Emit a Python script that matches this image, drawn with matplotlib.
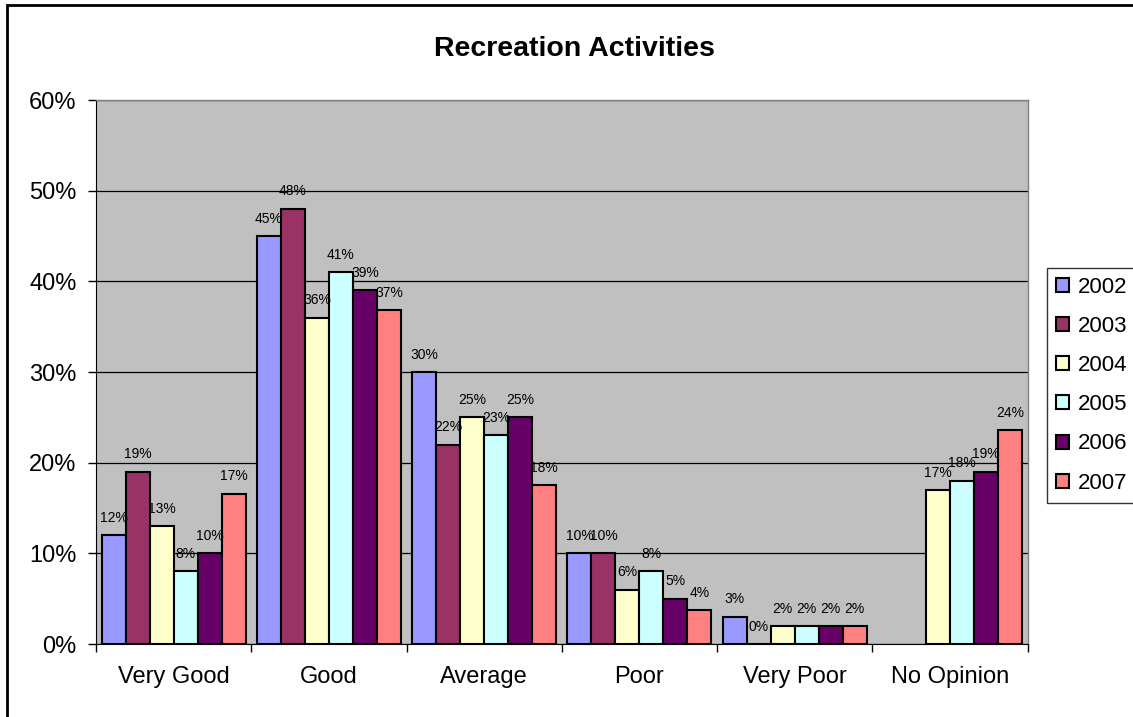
import numpy as np
import matplotlib
matplotlib.use("Agg")
import matplotlib.pyplot as plt
from matplotlib.patches import Rectangle

plt.rcParams['font.family'] = ['Liberation Sans', 'DejaVu Sans']

categories = ["Very Good", "Good", "Average", "Poor", "Very Poor", "No Opinion"]
years = ["2002", "2003", "2004", "2005", "2006", "2007"]
v2002 = [12, 45, 30, 10, 3, np.nan]
v2003 = [19, 48, 22, 10, 0, np.nan]
v2004 = [13, 36, 25, 6, 2, 17]
v2005 = [8, 41, 23, 8, 2, 18]
v2006 = [10, 39, 25, 5, 2, 19]
v2007 = [16.6, 36.8, 17.5, 3.7, 2, 23.6]
series = [v2002, v2003, v2004, v2005, v2006, v2007]
colors = ["#9999FF", "#993366", "#FFFFCC", "#CCFFFF", "#660066", "#FF8080"]

fig = plt.figure(figsize=(11.33, 7.17), dpi=100)
ax = fig.add_axes([0.0847, 0.1018, 0.8223, 0.7587])
ax.set_facecolor("#C0C0C0")

n = len(years)
bw = 0.1545
x = np.arange(len(categories))
for i, (vals, col) in enumerate(zip(series, colors)):
    pos = x - bw * n / 2 + bw * (i + 0.5)
    vals = np.array(vals, dtype=float)
    mask = ~np.isnan(vals)
    ax.bar(pos[mask], vals[mask], width=bw, color=col, edgecolor="black",
           linewidth=1.5, label=years[i], zorder=3)
    for p, v in zip(pos[mask], vals[mask]):
        ax.annotate(f"{v:.0f}%", (p, v), xytext=(0, 12.5), textcoords="offset points",
                    ha="center", va="center", fontsize=10, zorder=4)

ax.set_xlim(-0.5, len(categories) - 0.5)
ax.set_ylim(0, 60)
ax.set_yticks(np.arange(0, 61, 10))
ax.set_yticklabels([f"{t}%" for t in range(0, 61, 10)], fontsize=17)
ax.yaxis.grid(True, color="black", linewidth=0.9, zorder=1)
ax.set_axisbelow(True)
ax.set_xticks(x)
ax.set_xticklabels(categories, fontsize=17)
ax.tick_params(axis="x", length=0, pad=16)
ax.set_xticks(np.arange(-0.5, len(categories), 1), minor=True)
ax.tick_params(axis="x", which="minor", length=6, width=1, color="black")
ax.tick_params(axis="y", length=6, width=1, color="black", pad=8)
for s in ["top", "right"]:
    ax.spines[s].set_color("#808080")
    ax.spines[s].set_linewidth(1)
ax.spines["left"].set_color("black")
ax.spines["bottom"].set_color("black")

fig.suptitle("Recreation Activities", x=0.507, y=0.95, fontsize=20.5, fontweight="bold")

leg = ax.legend(loc="center left", bbox_to_anchor=(1.021, 0.476), fontsize=16,
                frameon=True, fancybox=False, edgecolor="black", handlelength=0.6,
                handleheight=0.6, handletextpad=0.4, labelspacing=0.82,
                borderpad=0.4, borderaxespad=0)
leg.get_frame().set_linewidth(1)

fig.patches.append(Rectangle((7 / 1133, -0.2), 1.2, 1.2 - 5 / 717, transform=fig.transFigure,
                             fill=False, edgecolor="black", linewidth=2, zorder=0))

fig.savefig("out.png", dpi=100)
